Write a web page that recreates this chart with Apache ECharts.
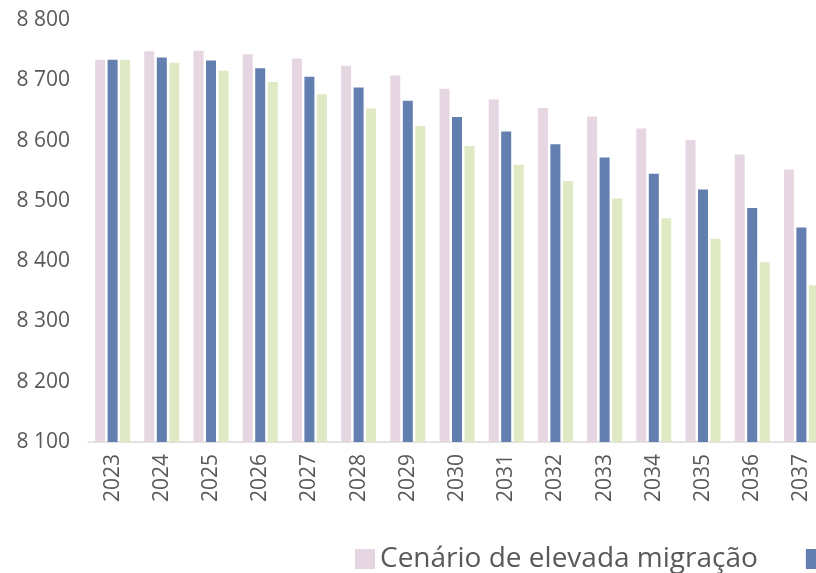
<!DOCTYPE html>
<html>
<head>
<meta charset="utf-8">
<script src="https://cdn.jsdelivr.net/npm/echarts@6/dist/echarts.min.js"></script>
<style>
  html, body { margin: 0; padding: 0; background: #fff; }
  #chart { width: 816px; height: 573px; }
</style>
</head>
<body>
<div id="chart"></div>
<script>
// anos
var years = ['2023','2024','2025','2026','2027','2028','2029','2030','2031','2032','2033','2034','2035','2036','2037'];

// cenários (milhares)
var seriesNames = ['Cenário de elevada migração', 'Cenário central', 'Cenário de baixa migração'];
var elevada = [8734, 8748, 8749, 8743, 8736, 8724, 8708, 8686, 8668, 8654, 8640, 8620, 8601, 8577, 8552];
var central = [8734, 8738, 8733, 8720, 8706, 8688, 8666, 8639, 8615, 8594, 8572, 8545, 8519, 8488, 8456];
var baixa   = [8734, 8729, 8716, 8697, 8677, 8653, 8624, 8591, 8560, 8533, 8504, 8471, 8437, 8398, 8360];

var colors = ['#E6D6E2', '#627FB0', '#DFE9C3'];
var fontFam = '"Open Sans", "Noto Sans", sans-serif';

var myChart = echarts.init(document.getElementById('chart'));

function bar(name, data) {
    return {
        name: name,
        type: 'bar',
        barWidth: 10,
        barGap: '25%',
        data: data
    };
}

myChart.setOption({
    animation: false,
    color: colors,
    textStyle: { fontFamily: fontFam },
    grid: {
        left: 88,
        right: -10,
        top: 20,
        bottom: 131,
        outerBoundsMode: 'none'
    },
    legend: {
        data: seriesNames,
        left: 350,
        top: 540,
        width: 2000,
        itemWidth: 20,
        itemHeight: 20,
        itemGap: 48,
        icon: 'rect',
        textStyle: { fontSize: 28, color: '#595959', fontFamily: fontFam }
    },
    xAxis: {
        type: 'category',
        data: years,
        axisLine: { lineStyle: { color: '#D9D9D9', width: 1.5 } },
        axisTick: { show: false },
        axisLabel: {
            rotate: 90,
            margin: 12,
            fontSize: 21,
            color: '#595959',
            fontFamily: fontFam
        }
    },
    yAxis: {
        type: 'value',
        min: 8100,
        max: 8800,
        interval: 100,
        splitLine: { show: false },
        axisLine: { show: false },
        axisTick: { show: false },
        axisLabel: {
            margin: 18,
            fontSize: 21,
            color: '#595959',
            fontFamily: fontFam,
            formatter: function (v) {
                return String(v).replace(/\B(?=(\d{3})+(?!\d))/g, ' ');
            }
        }
    },
    series: [
        bar(seriesNames[0], elevada),
        bar(seriesNames[1], central),
        bar(seriesNames[2], baixa)
    ]
});
</script>
</body>
</html>
